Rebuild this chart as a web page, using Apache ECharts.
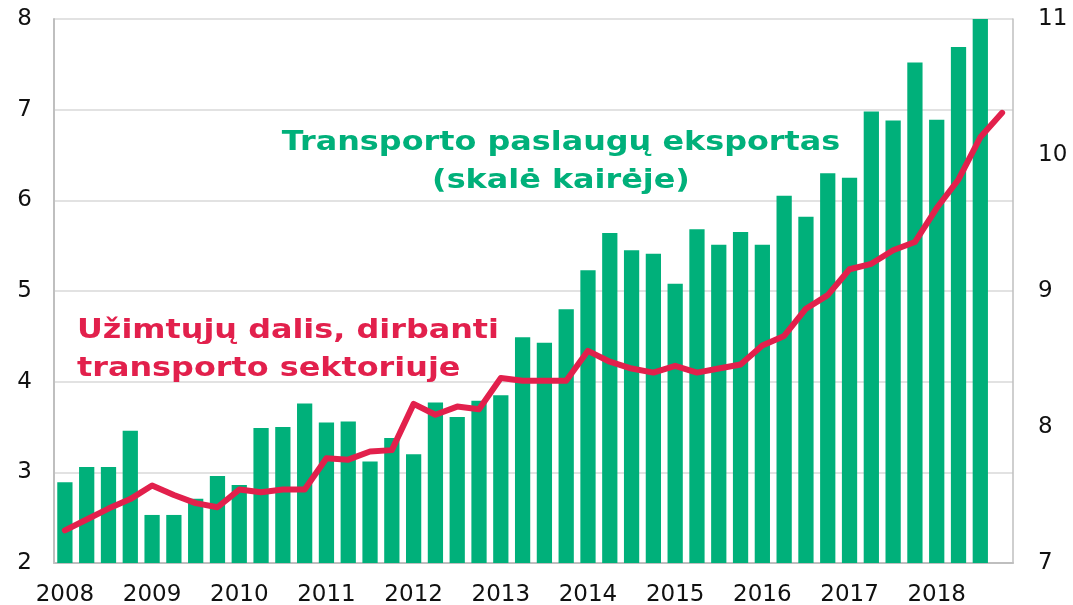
<!DOCTYPE html>
<html>
<head>
<meta charset="utf-8">
<script src="https://cdn.jsdelivr.net/npm/echarts@6/dist/echarts.min.js"></script>
<style>
  html, body { margin: 0; padding: 0; background: #fff; }
  #chart { width: 1073px; height: 605px; }
</style>
</head>
<body>
<div id="chart"></div>
<script>
// quarters 2008 Q1 .. 2018 Q4
const quarters = [
  '2008 Q1', '2008 Q2', '2008 Q3', '2008 Q4',
  '2009 Q1', '2009 Q2', '2009 Q3', '2009 Q4',
  '2010 Q1', '2010 Q2', '2010 Q3', '2010 Q4',
  '2011 Q1', '2011 Q2', '2011 Q3', '2011 Q4',
  '2012 Q1', '2012 Q2', '2012 Q3', '2012 Q4',
  '2013 Q1', '2013 Q2', '2013 Q3', '2013 Q4',
  '2014 Q1', '2014 Q2', '2014 Q3', '2014 Q4',
  '2015 Q1', '2015 Q2', '2015 Q3', '2015 Q4',
  '2016 Q1', '2016 Q2', '2016 Q3', '2016 Q4',
  '2017 Q1', '2017 Q2', '2017 Q3', '2017 Q4',
  '2018 Q1', '2018 Q2', '2018 Q3', '2018 Q4'
];

// transporto paslaugų eksportas (left scale)
const exportsValues = [
  2.89, 3.06, 3.06, 3.46,
  2.53, 2.53, 2.71, 2.96,
  2.86, 3.49, 3.50, 3.76,
  3.55, 3.56, 3.12, 3.38,
  3.20, 3.77, 3.61, 3.79,
  3.85, 4.49, 4.43, 4.80,
  5.23, 5.64, 5.45, 5.41,
  5.08, 5.68, 5.51, 5.65,
  5.51, 6.05, 5.82, 6.30,
  6.25, 6.98, 6.88, 7.52,
  6.89, 7.69, 8.00, null
];

// užimtųjų dalis, dirbanti transporto sektoriuje (right scale)
const employmentShare = [
  7.24, 7.32, 7.40, 7.47,
  7.57, 7.50, 7.44, 7.41,
  7.54, 7.52, 7.54, 7.54,
  7.77, 7.76, 7.82, 7.83,
  8.17, 8.09, 8.15, 8.13,
  8.36, 8.34, 8.34, 8.34,
  8.56, 8.48, 8.43, 8.40,
  8.45, 8.40, 8.43, 8.46,
  8.60, 8.67, 8.87, 8.97,
  9.16, 9.20, 9.30, 9.36,
  9.61, 9.82, 10.13, 10.31
];

const GREEN = '#00B07A';
const RED = '#E2204C';
const FONT = 'DejaVu Sans';

const chart = echarts.init(document.getElementById('chart'));

chart.setOption({
  animation: false,
  textStyle: { fontFamily: FONT },
  grid: {
    left: 54, right: 60, top: 19, bottom: 42,
    containLabel: false,
    outerBoundsMode: 'none'
  },
  xAxis: {
    type: 'category',
    data: quarters,
    axisTick: { show: false },
    axisLine: { lineStyle: { color: '#BFBFBF', width: 2 } },
    axisLabel: {
      interval: 3,
      color: '#111',
      fontSize: 23,
      margin: 21,
      formatter: (v) => v.slice(0, 4)
    }
  },
  yAxis: [
    {
      type: 'value',
      min: 2, max: 8, interval: 1,
      axisLine: { show: true, lineStyle: { color: '#BFBFBF', width: 2 } },
      axisTick: { show: false },
      axisLabel: { color: '#111', fontSize: 23, margin: 22 },
      splitLine: { lineStyle: { color: '#D9D9D9', width: 1.5 } }
    },
    {
      type: 'value',
      min: 7, max: 11, interval: 1,
      position: 'right',
      axisLine: { show: true, lineStyle: { color: '#BFBFBF', width: 1.5 } },
      axisTick: { show: false },
      axisLabel: { color: '#111', fontSize: 23, margin: 25 },
      splitLine: { show: false }
    }
  ],
  series: [
    {
      name: 'Transporto paslaugų eksportas',
      type: 'bar',
      yAxisIndex: 0,
      data: exportsValues,
      barCategoryGap: '30%',
      itemStyle: { color: GREEN }
    },
    {
      name: 'Užimtųjų dalis, dirbanti transporto sektoriuje',
      type: 'line',
      yAxisIndex: 1,
      data: employmentShare,
      showSymbol: false,
      symbol: 'none',
      lineStyle: { color: RED, width: 6, cap: 'round', join: 'round' },
      z: 5
    }
  ],
  graphic: [
    {
      type: 'text',
      x: 561,
      y: 124,
      scaleX: 1.18,
      style: {
        text: 'Transporto paslaugų eksportas\n(skalė kairėje)',
        fill: GREEN,
        font: 'bold 27px "DejaVu Sans"',
        align: 'center',
        lineHeight: 38
      },
      z: 10
    },
    {
      type: 'text',
      x: 77,
      y: 312,
      scaleX: 1.18,
      style: {
        text: 'Užimtųjų dalis, dirbanti\ntransporto sektoriuje',
        fill: RED,
        font: 'bold 27px "DejaVu Sans"',
        align: 'left',
        lineHeight: 38
      },
      z: 10
    }
  ]
});
</script>
</body>
</html>
